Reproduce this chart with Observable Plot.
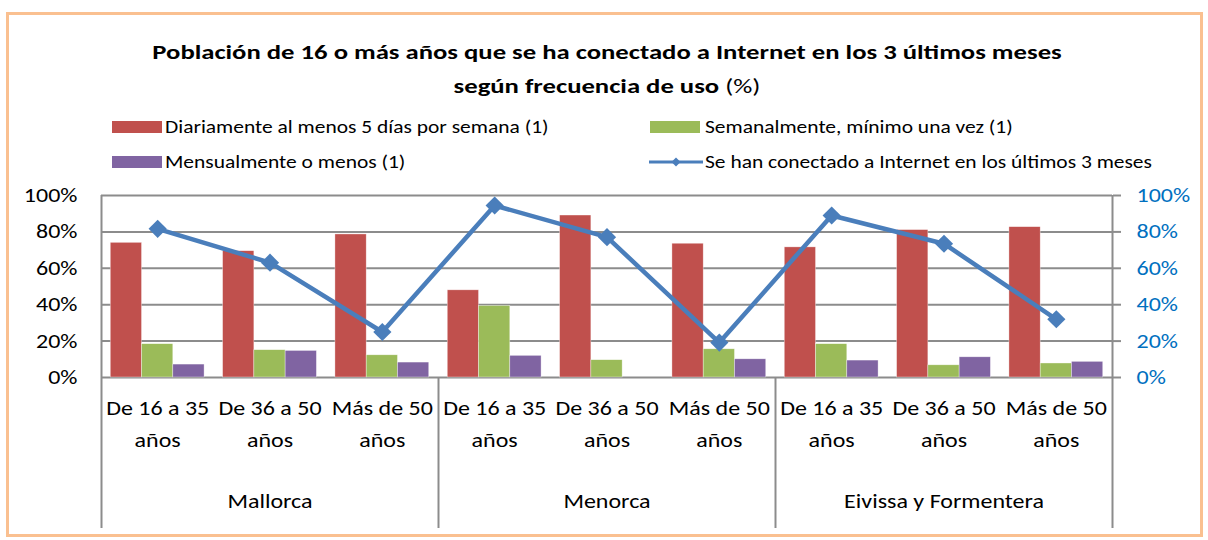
<!DOCTYPE html>
<html><head><meta charset="utf-8">
<script src="https://cdn.jsdelivr.net/npm/d3@7"></script>
<script src="https://cdn.jsdelivr.net/npm/@observablehq/plot@0.6"></script>
<style>
body{margin:0;background:#fff;}
#wrap{position:relative;width:1208px;height:540px;overflow:hidden;font-family:Carlito,Lato,sans-serif;color:#000;background:#fff;}
#frame{position:absolute;left:6px;top:12px;width:1191px;height:519px;border:3px solid #FAC090;}
.title{position:absolute;left:3px;width:1208px;text-align:center;font-weight:bold;font-size:21px;line-height:30px;white-space:nowrap;transform:scaleX(1.27);transform-origin:50% 50%;}
.title span{font-weight:normal;}
.leg{position:absolute;font-size:19px;line-height:24px;white-space:nowrap;transform:scaleX(1.13);transform-origin:0 50%;}
.sw{position:absolute;width:50px;height:12px;}
#chart{position:absolute;left:0;top:0;}
</style>
</head><body>
<div id="wrap">
  <div id="frame"></div>
  <div class="title" id="t1" style="top:37px"></div>
  <div class="title" id="t2" style="top:71px"></div>
  <div id="legend"></div>
  <div id="chart"></div>
</div>
<script>
// ---- data ----
const titleLine1 = "Población de 16 o más años que se ha conectado a Internet en los 3 últimos meses";
const titleLine2 = "según frecuencia de uso";
const titleUnit = "(%)";
const islands = ["Mallorca", "Menorca", "Eivissa y Formentera"];
const ages = ["De 16 a 35\naños", "De 36 a 50\naños", "Más de 50\naños"];
const seriesNames = [
  "Diariamente al menos 5 días por semana (1)",
  "Semanalmente, mínimo una vez (1)",
  "Mensualmente o menos (1)"
];
const lineName = "Se han conectado a Internet en los últimos 3 meses";
const diario   = [74.0, 69.4, 78.6, 47.9, 89.0, 73.5, 71.5, 81.0, 82.6];
const semanal  = [18.3, 15.0, 12.2, 39.3,  9.5, 15.5, 18.3,  6.7,  7.7];
const mensual  = [ 7.1, 14.6,  8.2, 11.9,  0.0, 10.0,  9.3, 11.1,  8.6];
const conectado = [81.7, 63.1, 25.0, 94.5, 77.1, 19.2, 89.0, 73.5, 32.0];
const yTicks = [0, 20, 40, 60, 80, 100];

// ---- styles ----
const barColors = ["#C0504D", "#9BBB59", "#8064A2"];
const lineColor = "#4A7EBB";
const gridColor = "#8C8C8C";
const rightAxisColor = "#0070C0";
const FONT = "Carlito, Lato, sans-serif";
const textStretch = 1.2;

// ---- titles ----
document.getElementById("t1").textContent = titleLine1;
const t2 = document.getElementById("t2");
t2.appendChild(document.createTextNode(titleLine2 + " "));
const unit = document.createElement("span"); unit.textContent = titleUnit; t2.appendChild(unit);

// ---- legend ----
const legend = document.getElementById("legend");
const legItems = [
  {name: seriesNames[0], color: barColors[0], sx: 112, tx: 165, y: 127},
  {name: seriesNames[1], color: barColors[1], sx: 650, tx: 705, y: 127},
  {name: seriesNames[2], color: barColors[2], sx: 112, tx: 165, y: 162},
  {name: lineName, color: null, sx: 649, tx: 705, y: 162}
];
legItems.forEach(it => {
  if (it.color) {
    const s = document.createElement("div");
    s.className = "sw"; s.style.left = it.sx + "px"; s.style.top = (it.y - 6) + "px"; s.style.background = it.color;
    legend.appendChild(s);
  } else {
    const ns = "http://www.w3.org/2000/svg";
    const svg = document.createElementNS(ns, "svg");
    svg.setAttribute("width", 54); svg.setAttribute("height", 14);
    svg.style.position = "absolute"; svg.style.left = it.sx + "px"; svg.style.top = (it.y - 7) + "px";
    const ln = document.createElementNS(ns, "line");
    ln.setAttribute("x1", 0); ln.setAttribute("x2", 54); ln.setAttribute("y1", 7); ln.setAttribute("y2", 7);
    ln.setAttribute("stroke", lineColor); ln.setAttribute("stroke-width", 3);
    const dm = document.createElementNS(ns, "path");
    dm.setAttribute("d", "M27,2.5L31.5,7L27,11.5L22.5,7Z"); dm.setAttribute("fill", lineColor);
    svg.appendChild(ln); svg.appendChild(dm);
    legend.appendChild(svg);
  }
  const t = document.createElement("div");
  t.className = "leg"; t.textContent = it.name;
  t.style.left = it.tx + "px"; t.style.top = (it.y - 12) + "px";
  legend.appendChild(t);
});

// ---- chart data tables ----
const cats = [];
islands.forEach((isl, g) => ages.forEach((a, k) => cats.push({i: g * 3 + k, island: isl, age: a})));
const seriesValues = [diario, semanal, mensual];
const barW = 0.2784, barGap = (1 - 3 * barW) / 2;
const bars = seriesValues.map((vals, s) => cats.map(c => ({i: c.i, s, value: vals[c.i]})));
const linePts = cats.map(c => ({i: c.i, value: conectado[c.i]}));
const fmt = d => d + "%";

const plot = Plot.plot({
  width: 1208, height: 540,
  marginLeft: 101, marginRight: 96, marginTop: 195, marginBottom: 163,
  x: {domain: [0, 9], axis: null},
  y: {domain: [0, 100], axis: null},
  style: {fontFamily: FONT, fontSize: "20px", background: "transparent", overflow: "visible", color: "#000"},
  marks: [
    Plot.ruleY(yTicks, {stroke: gridColor, strokeWidth: 2}),
    Plot.axisY({anchor: "left", label: null, ticks: yTicks, tickFormat: fmt, tickSize: 0, tickPadding: 24, fill: "#000", fontSize: 20}),
    Plot.axisY({anchor: "right", label: null, ticks: yTicks, tickFormat: fmt, tickSize: 8, tickPadding: 16, stroke: gridColor, strokeWidth: 2, fill: rightAxisColor, fontSize: 20}),
    Plot.ruleX([0, 9], {y1: 100, y2: 0, insetBottom: -151, stroke: gridColor, strokeWidth: 2}),
    Plot.ruleX([3, 6], {y1: 0, y2: 0, insetBottom: -151, stroke: gridColor, strokeWidth: 2}),
    ...bars.map((data, s) => Plot.rectY(data, {
      x1: d => d.i + barGap + d.s * barW,
      x2: d => d.i + barGap + (d.s + 1) * barW,
      y1: 0, y2: "value", fill: barColors[s], stroke: "#fff", strokeWidth: 0.6, strokeOpacity: 0.6
    })),
    Plot.line(linePts, {x: d => d.i + 0.5, y: "value", stroke: lineColor, strokeWidth: 4.5}),
    Plot.dot(linePts, {x: d => d.i + 0.5, y: "value", symbol: "diamond2", r: 8.2, fill: lineColor}),
    Plot.text(cats, {x: d => d.i + 0.5, y: 0, dy: 31, text: d => d.age.split("\n")[0], fill: "#000", fontSize: 20}),
    Plot.text(cats, {x: d => d.i + 0.5, y: 0, dy: 63, text: d => d.age.split("\n")[1], fill: "#000", fontSize: 20}),
    Plot.text(islands, {x: (d, g) => g * 3 + 1.5, y: 0, dy: 124, text: d => d, fill: "#000", fontSize: 20})
  ]
});
// stretch chart texts horizontally about their anchor point, as in the reference rendering
plot.querySelectorAll("text").forEach(t => {
  const tr = t.getAttribute("transform") || "";
  t.setAttribute("transform", (tr + ` scale(${textStretch},1)`).trim());
});
document.getElementById("chart").appendChild(plot);
</script>
</body></html>
